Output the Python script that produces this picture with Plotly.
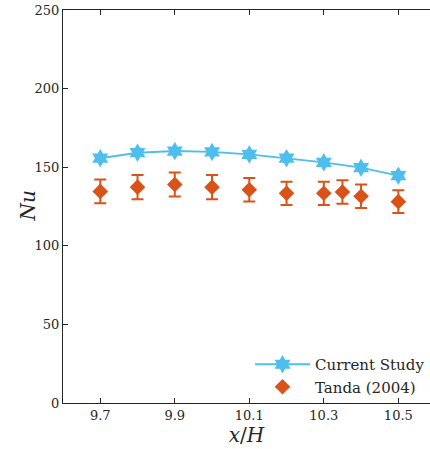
import plotly.graph_objects as go

x_cur = [9.7, 9.8, 9.9, 10.0, 10.1, 10.2, 10.3, 10.4, 10.5]
nu_cur = [155.7, 159.2, 160.3, 159.7, 158.2, 155.7, 153.1, 149.7, 144.6]

x_tanda = [9.7, 9.8, 9.9, 10.0, 10.1, 10.2, 10.3, 10.35, 10.4, 10.5]
nu_tanda = [134.6, 137.3, 139.0, 137.3, 135.7, 133.4, 133.4, 134.2, 131.5, 128.1]
err_tanda = [7.5, 7.7, 7.6, 7.7, 7.5, 7.4, 7.4, 7.5, 7.5, 7.2]

x_ticks = [9.7, 9.9, 10.1, 10.3, 10.5]
y_ticks = [0, 50, 100, 150, 200, 250]
x_range = [9.6, 10.585]

blue = "#4DBEEE"
orange = "#D95319"
font = "DejaVu Serif"
ML, MR = 63, 0
PW = 430 - ML - MR

fig = go.Figure()
fig.add_trace(go.Scatter(
    x=x_cur, y=nu_cur, mode="lines+markers", name="Current Study",
    line=dict(color=blue, width=1.8),
    marker=dict(symbol="hexagram", size=14, color=blue, line=dict(width=0)),
))
fig.add_trace(go.Scatter(
    x=x_tanda, y=nu_tanda, mode="markers", name="Tanda (2004)",
    marker=dict(symbol="diamond", size=12, color=orange, line=dict(width=0)),
    error_y=dict(type="data", array=err_tanda, visible=True, color=orange,
                 thickness=2, width=6),
))

fig.update_layout(
    template="none",
    width=430, height=449,
    margin=dict(l=ML, r=MR, t=10, b=46),
    paper_bgcolor="white", plot_bgcolor="white",
    font=dict(family=font, size=13, color="#262626"),
    showlegend=True,
    legend=dict(x=1.0, xanchor="right", y=0.0, yanchor="bottom",
                bgcolor="rgba(255,255,255,0)", font=dict(family=font, size=15, color="#262626"),
                itemwidth=55, tracegroupgap=0),
    xaxis=dict(range=x_range, tickvals=x_ticks, ticktext=[str(v) for v in x_ticks],
               showgrid=False, zeroline=False, showline=True, linecolor="#262626", linewidth=1,
               mirror="ticks", ticks="inside", ticklen=5, tickcolor="#262626", automargin=False,
               title=dict(text="<i>x</i>/<i>H</i>", font=dict(family=font, size=20), standoff=2)),
    yaxis=dict(range=[0, 250], tickvals=y_ticks, mirror=False, automargin=False,
               showgrid=False, zeroline=False, showline=True, linecolor="#262626", linewidth=1,
               ticks="inside", ticklen=5, tickcolor="#262626"),
    annotations=[dict(text="<i>Nu</i>", xref="paper", yref="paper",
                      x=(27 - ML) / PW, y=0.5, xanchor="center", yanchor="middle",
                      textangle=-90, showarrow=False,
                      font=dict(family=font, size=20, color="#262626"))],
)

fig.write_html("out.html")
